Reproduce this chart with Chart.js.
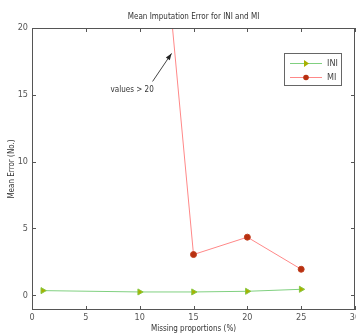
<!DOCTYPE html>
<html>
<head>
<meta charset="utf-8">
<script src="https://cdn.jsdelivr.net/npm/chart.js@4"></script>
<style>
  html, body { margin: 0; padding: 0; background: #fff; overflow: hidden; }
  #wrap { width: 356px; height: 334px; }
  canvas { display: block; }
</style>
</head>
<body>
<div id="wrap"><canvas id="myChart" width="356" height="334"></canvas></div>
<script>
const titleText = 'Mean Imputation Error for INI and MI';
const xLabel = 'Missing proportions (%)';
const yLabel = 'Mean Error (No.)';
const xTicks = [0, 5, 10, 15, 20, 25, 30];
const yTicks = [0, 5, 10, 15, 20];
const iniX = [1, 10, 15, 20, 25];
const iniY = [0.35, 0.25, 0.25, 0.3, 0.45];
const miX = [10, 15, 20, 25];
const miY = [46.5, 3.05, 4.35, 1.95];
const seriesNames = ['INI', 'MI'];
const noteText = 'values > 20';

const fontName = '"Liberation Sans Narrow", "DejaVu Sans Condensed", sans-serif';

function toPoints(xs, ys) {
  return xs.map((x, i) => ({ x: x, y: ys[i] }));
}

// MATLAB style box with inward ticks, title, x labels, legend and the arrow note
const boxPlugin = {
  id: 'boxPlugin',
  afterDatasetsDraw(chart) {
    const c = chart.ctx;
    const a = chart.chartArea;
    const xs = chart.scales.x;
    const ys = chart.scales.y;
    c.save();
    c.strokeStyle = '#555';
    c.lineWidth = 1;
    c.strokeRect(a.left + 0.5, a.top + 0.5, a.right - a.left - 1, a.bottom - a.top - 1);
    c.beginPath();
    xTicks.forEach(v => {
      const px = Math.round(xs.getPixelForValue(v)) + 0.5;
      c.moveTo(px, a.bottom); c.lineTo(px, a.bottom - 4);
      c.moveTo(px, a.top); c.lineTo(px, a.top + 4);
    });
    yTicks.forEach(v => {
      const py = Math.round(ys.getPixelForValue(v)) + 0.5;
      c.moveTo(a.left, py); c.lineTo(a.left + 4, py);
      c.moveTo(a.right, py); c.lineTo(a.right - 4, py);
    });
    c.stroke();

    // x tick labels
    c.fillStyle = '#555';
    c.font = '9px ' + fontName;
    c.textAlign = 'center';
    c.textBaseline = 'middle';
    xTicks.forEach(v => c.fillText(String(v), xs.getPixelForValue(v), a.bottom + 8));

    // title
    c.fillStyle = '#333';
    c.font = '8px ' + fontName;
    c.fillText(titleText, (a.left + a.right) / 2, 17);

    // arrow note
    const tipX = xs.getPixelForValue(12.96), tipY = ys.getPixelForValue(18.1);
    const tailX = xs.getPixelForValue(11.2), tailY = ys.getPixelForValue(16.0);
    c.strokeStyle = '#444';
    c.beginPath();
    c.moveTo(tailX, tailY); c.lineTo(tipX, tipY);
    c.stroke();
    const ang = Math.atan2(tipY - tailY, tipX - tailX);
    c.fillStyle = '#222';
    c.beginPath();
    c.moveTo(tipX, tipY);
    c.lineTo(tipX - 7 * Math.cos(ang - 0.35), tipY - 7 * Math.sin(ang - 0.35));
    c.lineTo(tipX - 7 * Math.cos(ang + 0.35), tipY - 7 * Math.sin(ang + 0.35));
    c.closePath();
    c.fill();
    c.fillStyle = '#333';
    c.textAlign = 'left';
    c.fillText(noteText, xs.getPixelForValue(7.3), ys.getPixelForValue(15.4));

    // legend
    c.fillStyle = '#fff';
    c.fillRect(284, 53, 57, 32);
    c.strokeStyle = '#666';
    c.strokeRect(284.5, 53.5, 57, 32);
    const rows = [63, 77];
    chart.data.datasets.forEach((ds, i) => {
      const y = rows[i] + 0.5;
      c.strokeStyle = ds.borderColor;
      c.beginPath(); c.moveTo(290, y); c.lineTo(322, y); c.stroke();
      c.fillStyle = ds.pointBackgroundColor;
      c.beginPath();
      if (i === 0) {
        c.moveTo(309, y); c.lineTo(304, y - 3.5); c.lineTo(304, y + 3.5); c.closePath();
      } else {
        c.arc(306, y, 2.8, 0, Math.PI * 2);
      }
      c.fill();
      c.fillStyle = '#444';
      c.font = '9px ' + fontName;
      c.fillText(ds.label, 327, y);
    });
    c.restore();
  }
};

new Chart(document.getElementById('myChart'), {
  type: 'line',
  data: {
    datasets: [{
      label: seriesNames[0],
      data: toPoints(iniX, iniY),
      borderColor: '#80d080',
      borderWidth: 1,
      pointStyle: 'triangle',
      rotation: 90,
      pointRadius: 3.5,
      pointBackgroundColor: '#a8b000',
      pointBorderColor: '#88c840',
      pointBorderWidth: 1,
      tension: 0
    }, {
      label: seriesNames[1],
      data: toPoints(miX, miY),
      borderColor: '#ff8888',
      borderWidth: 1,
      pointStyle: 'circle',
      pointRadius: 3,
      pointBackgroundColor: '#b83010',
      pointBorderColor: '#c04020',
      pointBorderWidth: 1,
      tension: 0
    }]
  },
  options: {
    responsive: false,
    animation: false,
    layout: { autoPadding: false, padding: { top: 28, right: 1, left: 0, bottom: 0 } },
    plugins: {
      legend: { display: false },
      tooltip: { enabled: false },
      title: { display: false }
    },
    scales: {
      x: {
        type: 'linear',
        min: 0,
        max: 30,
        afterBuildTicks: s => { s.ticks = xTicks.map(v => ({ value: v })); },
        afterFit: s => { s.height = 24; },
        grid: { display: false, drawTicks: false },
        border: { display: false },
        ticks: { display: false },
        title: {
          display: true,
          text: xLabel,
          color: '#333',
          font: { family: fontName, size: 8 },
          padding: { top: 0, bottom: 0 }
        }
      },
      y: {
        min: -1.1,
        max: 20,
        afterBuildTicks: s => { s.ticks = yTicks.map(v => ({ value: v })); },
        afterFit: s => { s.width = 32; },
        grid: { display: false, drawTicks: false },
        border: { display: false },
        ticks: { color: '#555', font: { family: fontName, size: 9 }, padding: 4 },
        title: {
          display: true,
          text: yLabel,
          color: '#333',
          font: { family: fontName, size: 8 },
          padding: { top: 7, bottom: 2 }
        }
      }
    }
  },
  plugins: [boxPlugin]
});
</script>
</body>
</html>
